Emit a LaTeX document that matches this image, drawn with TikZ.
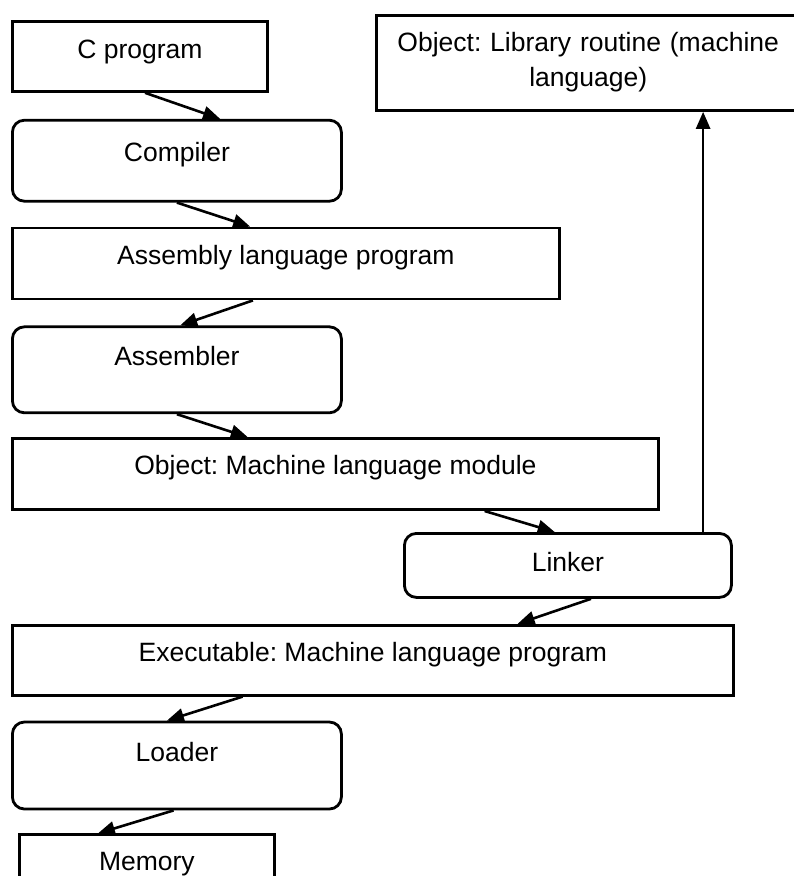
\documentclass[tikz,border=0pt]{standalone}
\usepackage{fontspec}
\setmainfont{Liberation Sans}
\usetikzlibrary{arrows.meta, positioning, calc}
\frenchspacing
\tikzstyle{block}=[draw,rectangle,line width=2.8pt,inner sep=0pt,anchor=north west]
\tikzstyle{rblock}=[block,rounded corners=12pt]
\tikzstyle{every node}=[font=\fontsize{26.5}{35}\selectfont]

\begin{document}
\begin{tikzpicture}[>={Triangle[length=17pt,width=14pt]}, line width=2.6pt]
  \useasboundingbox (0,0) rectangle (793pt,-876pt);
  \node[block, minimum width=255pt, text height=37pt, text depth=33pt] (cprog) at (11pt,-20pt) {C program};
  \node[block, right=106pt of cprog.north east, anchor=north west, yshift=6pt, text width=424pt, align=center, text height=36pt, text depth=59pt] (libr) {Object: Library routine (machine\\language)};
  \node[rblock, below=26pt of cprog.south west, anchor=north west, minimum width=329pt, text height=41pt, text depth=40pt] (compiler) {Compiler};
  \node[block, below=24pt of compiler.south west, anchor=north west, minimum width=547pt, text height=36pt, text depth=35pt] (asmprog) {Assembly language program};
  \node[rblock, below=25pt of asmprog.south west, anchor=north west, minimum width=329pt, text height=39pt, text depth=47pt] (assembler) {Assembler};
  \node[block, below=23pt of assembler.south west, anchor=north west, minimum width=646pt, text height=36pt, text depth=35pt] (objmod) {Object: Machine language module};
  \node[rblock, below right=21pt and 392pt of objmod.south west, anchor=north west, minimum width=327pt, text height=38pt, text depth=26pt] (linker) {Linker};
  \node[block, below left=25pt and 392pt of linker.south west, anchor=north west, minimum width=721pt, text height=36pt, text depth=34pt] (exe) {Executable: Machine language program};
  \node[rblock, below=24pt of exe.south west, anchor=north west, minimum width=329pt, text height=39pt, text depth=48pt] (loader) {Loader};
  \node[block, below right=23pt and 7pt of loader.south west, anchor=north west, minimum width=255pt, text height=36pt, text depth=45pt] (memory) {Memory};
  \draw[->] ($(cprog.south west)!0.52!(cprog.south east)$) -- ($(compiler.north west)!0.63!(compiler.north east)$);
  \draw[->] ($(compiler.south west)!0.50!(compiler.south east)$) -- ($(asmprog.north west)!0.435!(asmprog.north east)$);
  \draw[->] ($(asmprog.south west)!0.44!(asmprog.south east)$) -- ($(assembler.north west)!0.51!(assembler.north east)$);
  \draw[->] ($(assembler.south west)!0.50!(assembler.south east)$) -- ($(objmod.north west)!0.365!(objmod.north east)$);
  \draw[->] ($(objmod.south west)!0.73!(objmod.south east)$) -- ($(linker.north west)!0.46!(linker.north east)$);
  \draw[->] ($(linker.south west)!0.57!(linker.south east)$) -- ($(exe.north west)!0.70!(exe.north east)$);
  \draw[->] ($(exe.south west)!0.32!(exe.south east)$) -- ($(loader.north west)!0.47!(loader.north east)$);
  \draw[->] ($(loader.south west)!0.49!(loader.south east)$) -- ($(memory.north west)!0.31!(memory.north east)$);
  \draw[->] ($(linker.north west)!0.91!(linker.north east)$) coordinate (lk) -- (lk |- libr.south);
\end{tikzpicture}
\end{document}
